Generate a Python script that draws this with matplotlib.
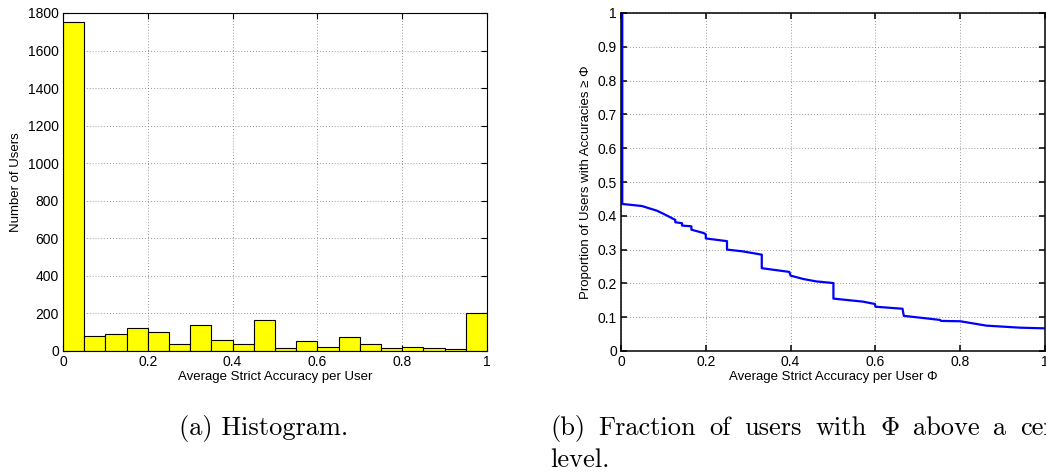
import matplotlib
matplotlib.use("Agg")
import matplotlib.pyplot as plt
import numpy as np

# histogram: 20 bins of width 0.05 on [0, 1]
bin_left = np.arange(0.0, 1.0, 0.05)
user_counts = [1750, 80, 89, 120, 101, 39, 140, 60, 39, 163,
               17, 52, 20, 76, 39, 18, 22, 17, 10, 204]

# fraction of users with accuracy >= phi
phi = [0.0, 0.003, 0.003, 0.049, 0.085, 0.108, 0.120, 0.128, 0.128, 0.144, 0.144,
       0.166, 0.166, 0.195, 0.200, 0.200, 0.250, 0.250, 0.286, 0.332, 0.332,
       0.397, 0.400, 0.430, 0.460, 0.501, 0.501, 0.571, 0.599, 0.600, 0.664,
       0.667, 0.752, 0.755, 0.800, 0.862, 0.941, 1.0]
frac = [1.0, 1.0, 0.435, 0.429, 0.415, 0.401, 0.393, 0.388, 0.381, 0.378, 0.371,
        0.369, 0.359, 0.349, 0.345, 0.333, 0.325, 0.300, 0.295, 0.285, 0.245,
        0.234, 0.223, 0.213, 0.206, 0.201, 0.155, 0.146, 0.139, 0.131, 0.125,
        0.104, 0.092, 0.089, 0.088, 0.075, 0.069, 0.067]

x_ticks = [0, 0.2, 0.4, 0.6, 0.8, 1]
hist_yticks = np.arange(0, 1801, 200)
frac_yticks = np.round(np.arange(0, 1.01, 0.1), 1)

plt.rcParams["font.family"] = ["Liberation Sans", "DejaVu Sans"]
plt.rcParams["mathtext.fontset"] = "cm"

W, H = 1046, 474
fig = plt.figure(figsize=(W / 100, H / 100), dpi=100)


def matlab_axes(ax, lw):
    ax.tick_params(direction="in", top=True, right=True, length=4, width=lw,
                   labelsize=10, pad=3)
    for s in ax.spines.values():
        s.set_linewidth(lw)
    ax.grid(True, color="0.45", linestyle=(0, (1, 2.5)), linewidth=0.6)
    ax.set_axisbelow(True)
    ax.xaxis.set_major_formatter(plt.FuncFormatter(lambda v, p: f"{v:g}"))
    ax.yaxis.set_major_formatter(plt.FuncFormatter(lambda v, p: f"{v:g}"))


ax1 = fig.add_axes([63 / W, 1 - 351 / H, 424 / W, 338 / H])
ax1.bar(bin_left, user_counts, width=0.05, align="edge",
        color="#ffff00", edgecolor="black", linewidth=0.8)
ax1.set_xlim(0, 1)
ax1.set_ylim(0, 1800)
ax1.set_xticks(x_ticks)
ax1.set_yticks(hist_yticks)
matlab_axes(ax1, 0.8)
ax1.set_xlabel("Average Strict Accuracy per User", fontsize=9.5, labelpad=1)
ax1.set_ylabel("Number of Users", fontsize=9.5, labelpad=4)

ax2 = fig.add_axes([621 / W, 1 - 351 / H, 424 / W, 338 / H])
ax2.plot(phi, frac, color="#0000ff", linewidth=1.6)
ax2.set_xlim(0, 1)
ax2.set_ylim(0, 1)
ax2.set_xticks(x_ticks)
ax2.set_yticks(frac_yticks)
matlab_axes(ax2, 1.1)
ax2.set_xlabel("Average Strict Accuracy per User \u03a6", fontsize=9.5, labelpad=1)
ax2.set_ylabel("Proportion of Users with Accuracies \u2265 \u03a6", fontsize=9.5, labelpad=4)

# sub-figure captions (LaTeX style, line b is justified and runs off the page)
cap = dict(fontfamily="cmr10", fontsize=19, va="baseline", ha="left")
fig.text(179 / W, 1 - 435 / H, "(a) Histogram.", **cap)

renderer = fig.canvas.get_renderer()
words_b = ["(b)", "Fraction", "of", "users", "with", r"$\Phi$", "above", "a", "certain"]
xpix = 550
for w in words_b:
    t = fig.text(xpix / W, 1 - 435 / H, w, **cap)
    xpix = t.get_window_extent(renderer).x1 + 13.5
fig.text(550 / W, 1 - 467 / H, "level.", **cap)

fig.savefig("out.png", dpi=100)
